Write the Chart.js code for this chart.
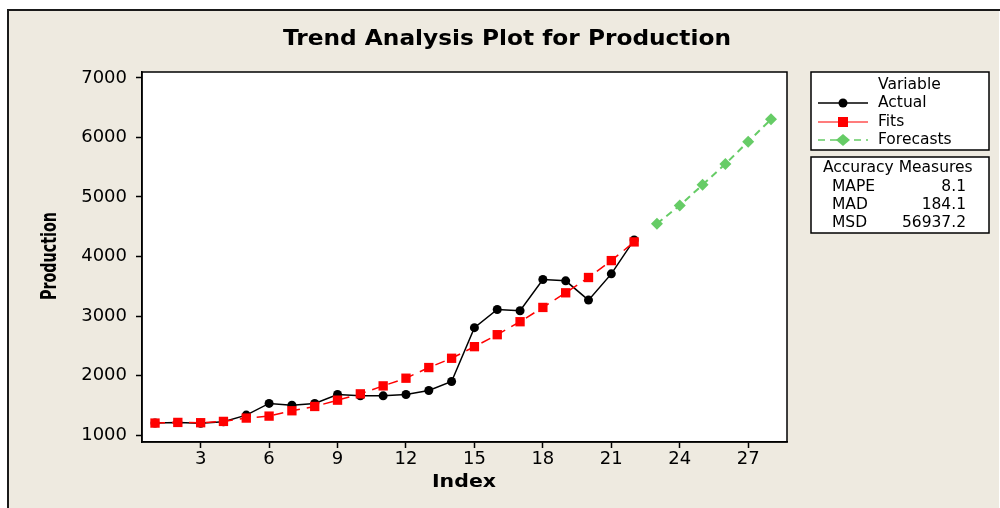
<!DOCTYPE html>
<html>
<head>
<meta charset="utf-8">
<script src="https://cdn.jsdelivr.net/npm/chart.js@4/dist/chart.umd.min.js"></script>
<style>
  html, body { margin: 0; padding: 0; background: #ffffff; }
  canvas { display: block; }
</style>
</head>
<body>
<canvas id="c" width="1000" height="508"></canvas>
<script>
// ---- data ----
const actualIndex = [1,2,3,4,5,6,7,8,9,10,11,12,13,14,15,16,17,18,19,20,21,22];
const actualValues = [1201,1212,1196,1223,1335,1531,1502,1531,1681,1659,1659,1681,1748,1899,2804,3110,3088,3613,3591,3267,3708,4278];
const fitValues = [1201,1212,1207,1229,1285,1318,1408,1480,1586,1692,1826,1955,2134,2290,2485,2686,2904,3144,3390,3647,3931,4245];
const forecastIndex = [23,24,25,26,27,28];
const forecastValues = [4551,4858,5204,5556,5930,6305];
const xTicks = [3,6,9,12,15,18,21,24,27];
const yTicks = [1000,2000,3000,4000,5000,6000,7000];
const seriesNames = ['Actual','Fits','Forecasts'];
const accuracyLabels = ['MAPE','MAD','MSD'];
const accuracyValues = ['8.1','184.1','56937.2'];
const titleText = 'Trend Analysis Plot for Production';
const xTitle = 'Index';
const yTitle = 'Production';
const legendTitle = 'Variable';
const accuracyTitle = 'Accuracy Measures';

const BEIGE = '#EEEAE0';
const RED = '#FF0000';
const GREEN = '#66CC66';

function pts(xs, ys) { return xs.map((x, i) => ({ x: x, y: ys[i] })); }

function fitText(ctx, text, x, y, font, targetW, align) {
  ctx.save();
  ctx.font = font;
  const w = ctx.measureText(text).width;
  const s = targetW / w;
  ctx.translate(x, y);
  ctx.scale(s, 1);
  ctx.textAlign = align || 'center';
  ctx.textBaseline = 'middle';
  ctx.fillText(text, 0, 0);
  ctx.restore();
}

const decor = {
  id: 'decor',
  beforeDraw(chart) {
    const ctx = chart.ctx;
    const a = chart.chartArea;
    ctx.save();
    ctx.fillStyle = '#ffffff';
    ctx.fillRect(0, 0, chart.width, chart.height);
    ctx.fillStyle = BEIGE;
    ctx.fillRect(8, 10, chart.width - 9, chart.height - 10);
    ctx.strokeStyle = '#1a1a1a';
    ctx.lineWidth = 2;
    ctx.beginPath();
    ctx.moveTo(8, chart.height + 5);
    ctx.lineTo(8, 10);
    ctx.lineTo(chart.width + 5, 10);
    ctx.stroke();
    ctx.fillStyle = '#ffffff';
    ctx.fillRect(a.left, a.top, a.right - a.left, a.bottom - a.top);
    ctx.restore();
  },
  afterDraw(chart) {
    const ctx = chart.ctx;
    const a = chart.chartArea;
    ctx.save();
    // plot frame
    ctx.strokeStyle = '#000';
    ctx.lineWidth = 1.5;
    ctx.strokeRect(a.left, a.top, a.right - a.left, a.bottom - a.top);
    ctx.fillStyle = '#000';
    // titles
    fitText(ctx, titleText, 507, 40, 'bold 21px "DejaVu Sans"', 448, 'center');
    fitText(ctx, xTitle, 464, 483, 'bold 17px "DejaVu Sans"', 64, 'center');
    ctx.save();
    ctx.translate(50.5, 256);
    ctx.rotate(-Math.PI / 2);
    fitText(ctx, yTitle, 0, 0, 'bold 22px "DejaVu Sans"', 88, 'center');
    ctx.restore();

    // legend boxes
    ctx.fillStyle = '#ffffff';
    ctx.fillRect(811, 72, 178, 78);
    ctx.strokeStyle = '#000';
    ctx.lineWidth = 1.5;
    ctx.strokeRect(811, 72, 178, 78);
    ctx.fillRect(811, 157, 178, 76);
    ctx.strokeRect(811, 157, 178, 76);

    ctx.fillStyle = '#000';
    ctx.font = '15.5px "DejaVu Sans"';
    ctx.textBaseline = 'middle';
    ctx.textAlign = 'left';
    ctx.fillText(legendTitle, 878, 85);
    const rows = [103, 122, 140];
    rows.forEach((yy, i) => ctx.fillText(seriesNames[i], 878, yy));

    // Actual sample
    ctx.strokeStyle = '#000'; ctx.lineWidth = 1.5; ctx.setLineDash([]);
    ctx.beginPath(); ctx.moveTo(818, rows[0]); ctx.lineTo(868, rows[0]); ctx.stroke();
    ctx.beginPath(); ctx.arc(843, rows[0], 4.5, 0, Math.PI * 2); ctx.fillStyle = '#000'; ctx.fill();
    // Fits sample
    ctx.strokeStyle = '#FF5050';
    ctx.beginPath(); ctx.moveTo(818, rows[1]); ctx.lineTo(868, rows[1]); ctx.stroke();
    ctx.fillStyle = RED; ctx.fillRect(838, rows[1] - 5, 10, 10);
    // Forecasts sample
    ctx.strokeStyle = GREEN; ctx.setLineDash([7, 5]);
    ctx.beginPath(); ctx.moveTo(818, rows[2]); ctx.lineTo(868, rows[2]); ctx.stroke();
    ctx.setLineDash([]);
    ctx.fillStyle = GREEN;
    ctx.beginPath();
    ctx.moveTo(843 - 7, rows[2]); ctx.lineTo(843, rows[2] - 6);
    ctx.lineTo(843 + 7, rows[2]); ctx.lineTo(843, rows[2] + 6); ctx.closePath(); ctx.fill();

    // accuracy box
    ctx.fillStyle = '#000';
    ctx.textAlign = 'left';
    ctx.fillText(accuracyTitle, 823, 168);
    const arows = [187, 205, 223];
    arows.forEach((yy, i) => {
      ctx.textAlign = 'left';
      ctx.fillText(accuracyLabels[i], 832, yy);
      ctx.textAlign = 'right';
      ctx.fillText(accuracyValues[i], 966, yy);
    });
    ctx.restore();
  }
};

const tickFont = { family: '"DejaVu Sans"', size: 18 };

new Chart(document.getElementById('c'), {
  type: 'line',
  data: {
    datasets: [
      {
        label: seriesNames[0],
        data: pts(actualIndex, actualValues),
        borderColor: '#000', borderWidth: 1.5,
        pointStyle: 'circle', pointRadius: 4.5, pointBackgroundColor: '#000', pointBorderWidth: 0,
        tension: 0, order: 2
      },
      {
        label: seriesNames[1],
        data: pts(actualIndex, fitValues),
        borderColor: RED, borderWidth: 1.5, borderDash: [10, 7],
        pointStyle: 'rect', pointRadius: 6.6, pointBackgroundColor: RED, pointBorderWidth: 0,
        tension: 0, order: 1
      },
      {
        label: seriesNames[2],
        data: pts(forecastIndex, forecastValues),
        borderColor: GREEN, borderWidth: 2, borderDash: [7, 5],
        pointStyle: 'rectRot', pointRadius: 6, pointBackgroundColor: GREEN, pointBorderWidth: 0,
        tension: 0, order: 3
      }
    ]
  },
  options: {
    responsive: false,
    animation: false,
    devicePixelRatio: 1,
    layout: { padding: { left: 0, right: 213, top: 72, bottom: 0 } },
    plugins: { legend: { display: false }, tooltip: { enabled: false }, title: { display: false } },
    scales: {
      x: {
        type: 'linear', min: 0.43, max: 28.7,
        afterBuildTicks: s => { s.ticks = xTicks.map(v => ({ value: v })); },
        afterFit: s => { s.height = 66; },
        grid: { drawOnChartArea: false, drawTicks: true, tickLength: 6, color: '#000', tickWidth: 1.5 },
        border: { display: true, color: '#000', width: 1.5 },
        ticks: { font: tickFont, color: '#000', padding: 1, maxRotation: 0, autoSkip: false,
                 callback: v => String(v) }
      },
      y: {
        type: 'linear', min: 883, max: 7100,
        afterBuildTicks: s => { s.ticks = yTicks.map(v => ({ value: v })); },
        afterFit: s => { s.width = 142; },
        grid: { drawOnChartArea: false, drawTicks: true, tickLength: 6, color: '#000', tickWidth: 1.5 },
        border: { display: true, color: '#000', width: 1.5 },
        ticks: { font: tickFont, color: '#000', padding: 9, autoSkip: false,
                 callback: v => String(v) }
      }
    }
  },
  plugins: [decor]
});
</script>
</body>
</html>
